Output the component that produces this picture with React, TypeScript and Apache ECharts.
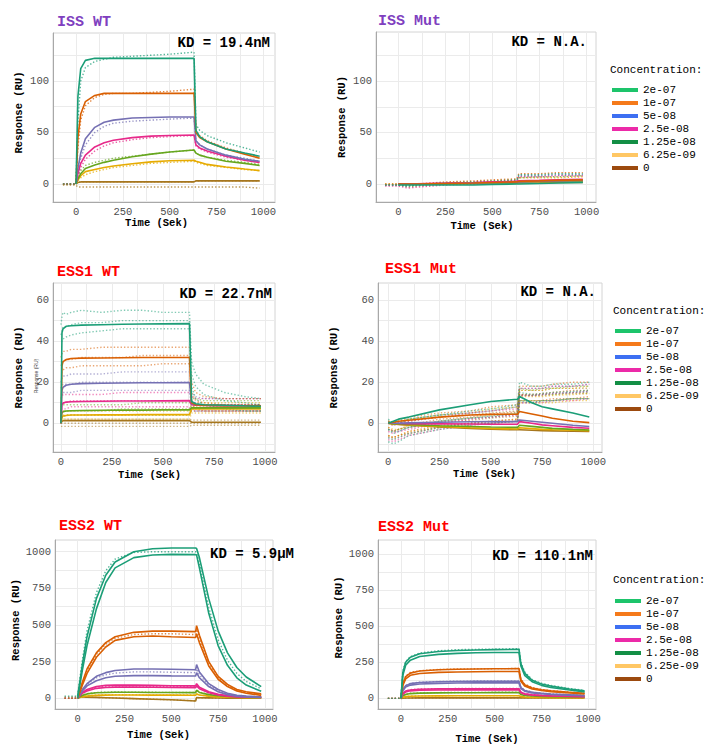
import React, { useEffect, useRef } from 'react';
import * as echarts from 'echarts';

// ---------- categories / palette ----------
const CONCENTRATIONS = ['2e-07', '1e-07', '5e-08', '2.5e-08', '1.25e-08', '6.25e-09', '0'];
const PLOT_COLORS = ['#1B9E77', '#D95F02', '#7570B3', '#E7298A', '#66A61E', '#E6AB02', '#A6761D'];
const LEGEND_COLORS = ['#1DC46B', '#F57A1A', '#3D6FF2', '#EC2AA8', '#138F45', '#FFC764', '#9C4A0E'];

// ---------- tick labels ----------
const X_LABELS = [0, 250, 500, 750, 1000];
const X_GRIDLINES = [-125, 0, 125, 250, 375, 500, 625, 750, 875, 1000];
const ISS_Y_LABELS = [0, 50, 100];
const ISS_Y_GRIDLINES = [0, 25, 50, 75, 100, 125];
const ESS1_Y_LABELS = [0, 20, 40, 60];
const ESS1_Y_GRIDLINES = [-10, 0, 10, 20, 30, 40, 50, 60];
const ESS2_Y_LABELS = [0, 250, 500, 750, 1000];
const ESS2_Y_GRIDLINES = [0, 125, 250, 375, 500, 625, 750, 875, 1000];

// ---------- ISS WT ----------
const ISS_WT_T = [-70, -1, 0, 10, 25, 50, 100, 150, 200, 300, 400, 500, 630, 640, 660, 700, 800, 900, 980];
const ISS_WT_FIT = [
  [null, null, 0, 85, 112, 120, 122, 122, 122, 122, 122, 122, 122, 52, 46, 41, 34, 30, 27],
  [null, null, 0, 45, 68, 80, 86, 88, 88, 88, 88, 88, 88, 50, 45, 41, 34, 29, 25],
  [null, null, 0, 15, 30, 44, 55, 60, 62, 64, 64.5, 65, 65, 42, 38, 34, 28, 24, 22],
  [null, null, 0, 10, 20, 28, 36, 40, 42.5, 45, 46.5, 47, 47.5, 38, 35, 32, 27, 23, 21],
  [null, null, 0, 5, 10, 15, 18.5, 21, 23, 26.5, 29, 31, 33, 30, 28, 26, 22, 20, 18],
  [null, null, 0, 4, 8, 12, 14, 16, 17.5, 19.7, 21.5, 22.5, 23, 22, 21, 19, 16.5, 14.5, 13],
  [null, null, 0, 1.5, 2, 2, 2, 2, 2, 2, 2, 2, 2, 3, 3, 3, 3, 3, 3],
];
const ISS_WT_DATA = [
  [0, 0, 0, 60, 100, 113, 119, 121, 123, 124, 125, 126, 128, 58, 52, 47, 40, 35, 31],
  [0, 0, 0, 35, 62, 76, 84, 87, 88, 88, 89, 90, 92, 52, 47, 42, 35, 30, 26],
  [0, 0, 0, 12, 25, 38, 50, 56, 59, 61, 62, 63, 64, 42, 38, 34, 28, 25, 22],
  [0, 0, 0, 8, 16, 24, 32, 37, 40, 43, 45, 46, 47, 37, 34, 31, 26, 23, 21],
  [0, 0, 0, 8, 13, 18, 21, 23, 25, 27, 29, 31, 33, 30, 28, 26, 23, 21, 19],
  [0, 0, 0, 3, 6, 9, 12, 14, 16, 18, 20, 21, 22, 21, 20, 18, 16, 14, 13],
  [0, 0, 0, 2, 2, 2, 2, 2, 2, 2, 2, 2, 2, 3, 3, 3, 3, 3, 3],
];
const ISS_WT_DATA_BLANK2 = [-1, -1, -1, -3, -3, -3, -3, -3, -3, -3, -3, -3, -3, -3, -3, -3, -3, -3, -4];

// ---------- ISS Mut ----------
const ISS_MUT_T = [-70, -1, 0, 50, 100, 250, 400, 500, 630, 640, 750, 850, 980];
const ISS_MUT_FIT = [
  [null, null, -1, -1, -1, -1, -1, -0.5, 0, 0, 0.5, 1, 1.5],
  [null, null, 0, 0, 0, 0.5, 1, 1.5, 2, 2.5, 3, 3.5, 4],
  [null, null, 0, 0, 0, 0.5, 1, 1.2, 1.5, 2, 2.5, 3, 3.5],
  [null, null, 0, 0, 0.2, 0.8, 1.5, 2, 2.5, 3, 3.5, 4, 4.5],
  [null, null, 0, 0, 0, 0.5, 1, 1.2, 1.5, 2, 2.5, 3, 3],
  [null, null, 0, 0, 0, 0.3, 0.8, 1, 1.3, 1.5, 2, 2.5, 3],
  [null, null, 0, 0, 0, 0, 0.3, 0.5, 0.8, 1, 1.2, 1.5, 1.5],
];
const ISS_MUT_DATA = [
  [-1, -1, -1, -2, -1, 1, 2, 3, 4, 9, 9, 10, 10],
  [0, 0, 0, -1, 0, 2, 3, 4, 5, 10, 10, 11, 11],
  [-1, -1, -1, -2, -1, 0, 1, 2, 3, 8, 8, 9, 9],
  [-2, -2, -2, -4, -3, -1, 0, 1, 2, 7, 7, 8, 8],
  [-1, -1, -1, -3, -2, 0, 1, 2, 3, 6, 7, 7, 8],
  [0, 0, 0, -1, 0, 1, 2, 3, 4, 6, 6, 6, 7],
  [-1, -1, -1, -1, -1, 0, 0, 1, 1, 2, 2, 2, 2],
];

// ---------- ESS1 WT ----------
const ESS1_WT_T = [0, 5, 10, 25, 50, 100, 200, 300, 400, 500, 630, 640, 660, 700, 800, 900, 980];
const ESS1_WT_FIT = [
  [0, 44, 46, 47.2, 47.5, 47.8, 48, 48.2, 48.3, 48.4, 48.5, 10.6, 9.5, 9, 8.8, 8.5, 8.3],
  [0, 28, 30, 31, 31.5, 31.7, 31.8, 31.9, 32, 32, 32, 10, 9, 8.8, 8.6, 8.5, 8.5],
  [0, 16, 17.5, 18.5, 19, 19.3, 19.5, 19.6, 19.7, 19.7, 19.8, 9.5, 9, 8.8, 8.6, 8.5, 8.5],
  [0, 9, 9.8, 10.3, 10.5, 10.6, 10.7, 10.8, 10.8, 10.9, 11, 9, 8.8, 8.7, 8.6, 8.5, 8.5],
  [0, 5, 5.6, 6, 6.1, 6.2, 6.3, 6.4, 6.4, 6.5, 6.5, 7.5, 7.5, 7.5, 7.5, 7.5, 7.5],
  [0, 3, 3.5, 3.8, 4, 4, 4.1, 4.1, 4.2, 4.2, 4.2, 7, 7, 7, 7, 7, 7],
  [0, 1, 1.2, 1.3, 1.3, 1.3, 1.3, 1.3, 1.3, 1.3, 1.3, 0.5, 0.5, 0.5, 0.5, 0.5, 0.5],
];
const ESS1_WT_DATA_HIGH = [
  [48, 52, 54, 53, 54, 55, 54, 55, 55, 54, 54, 30, 24, 19, 15, 13, 12],
  [32, 34, 35, 35, 36, 36, 37, 37, 37, 37, 37, 20, 15, 13, 12, 12, 12],
  [20, 22, 23, 23, 24, 24, 24, 25, 25, 25, 25, 15, 13, 12, 12, 12, 12],
  [12, 13, 14, 14, 14, 14, 14, 15, 15, 15, 15, 13, 12, 12, 12, 12, 12],
  [8, 9, 9, 9, 9, 9, 9, 9, 10, 10, 10, 12, 12, 11, 11, 11, 11],
  [6, 6, 6, 6, 6, 6, 6, 6, 6, 6, 6, 10, 10, 10, 10, 10, 10],
  [2, 2, 2, 2, 2, 2, 2, 2, 2, 2, 2, 1.5, 1.5, 1.5, 1.5, 1.5, 1.5],
];
const ESS1_WT_DATA_MID = [
  [43, 45, 47, 47, 48, 49, 49, 50, 50, 50, 50, 24, 18, 14, 11, 10, 9],
  [28, 29, 30, 31, 31, 32, 32, 32, 33, 33, 33, 15, 11, 10, 9, 9, 9],
  [17, 18, 19, 19, 19, 20, 20, 20, 20, 20, 20, 11, 10, 9, 9, 9, 9],
  [9, 10, 10, 10, 11, 11, 11, 11, 11, 11, 11, 9, 9, 9, 9, 9, 9],
  [5, 6, 6, 6, 6, 6, 6, 7, 7, 7, 7, 9, 9, 9, 9, 9, 9],
  [3, 3, 4, 4, 4, 4, 4, 4, 4, 4, 4, 8, 8, 8, 8, 8, 8],
  [0, 0, 0, 0, 0, 0, 0, 0, 0, 0, 0, 0, 0, 0, 0, 0, 0],
];
const ESS1_WT_DATA_LOW = [
  [40, 40, 41, 42, 43, 44, 45, 46, 46, 46, 46, 18, 12, 9, 7, 6, 6],
  [25, 25, 26, 27, 27, 28, 28, 28, 28, 29, 29, 10, 7, 6, 6, 6, 6],
  [14, 14, 15, 15, 15, 16, 16, 16, 16, 16, 16, 7, 6, 6, 6, 6, 6],
  [7, 7, 7, 7, 8, 8, 8, 8, 8, 8, 8, 6, 6, 6, 6, 6, 6],
  [3, 3, 3, 4, 4, 4, 4, 4, 4, 4, 4, 6, 6, 6, 6, 6, 6],
  [1, 1, 2, 2, 2, 2, 2, 2, 2, 2, 2, 5, 5, 5, 5, 5, 5],
  [-1.5, -1.5, -1.5, -1.5, -1.5, -1.5, -1.5, -1.5, -1.5, -1.5, -1.5, -1, -1, -1, -1, -1, -1],
];

// ---------- ESS1 Mut ----------
const ESS1_MUT_T = [0, 25, 50, 100, 250, 400, 500, 630, 640, 700, 750, 800, 900, 980];
const ESS1_MUT_FIT = [
  [0, 1, 2, 3, 6.5, 9, 10.6, 11.7, 13, 10, 8, 7, 5, 3],
  [0, 0.5, 1, 1.5, 3, 4, 4.3, 4.4, 5.7, 4.5, 3.5, 2.4, 1, 0.3],
  [0, 0, 0, 0.2, 0.5, 0.7, 0.8, 0.8, 1.6, 1, 0.5, 0, -1, -1.6],
  [0, 0, -0.1, -0.2, -0.3, -0.4, -0.5, -0.5, 0.8, 0, -0.8, -1.2, -2, -2.4],
  [0, -0.2, -0.4, -0.6, -1.2, -1.6, -1.8, -2, -1, -1.5, -2, -2.5, -3, -3.3],
  [0, -0.3, -0.5, -0.8, -1.5, -2.2, -2.5, -2.8, -2.2, -2.6, -3, -3.2, -3.4, -3.6],
  [0, -0.3, -0.6, -1, -1.8, -2.5, -2.9, -3.2, -3.2, -3.4, -3.6, -3.7, -3.9, -4],
];
const ESS1_MUT_DATA_HIGH = [
  [2, 0, 0, 2, 4, 6, 7, 9, 20, 18, 18, 19, 19, 20],
  [1, 0, 1, 3, 5, 6, 8, 9, 18, 18, 18, 19, 20, 20],
  [1, -1, 0, 2, 4, 5, 6, 8, 17, 17, 17, 18, 18, 19],
  [0, -1, 0, 1, 3, 5, 6, 7, 17, 17, 17, 18, 18, 19],
  [1, 0, 0, 2, 4, 5, 6, 8, 17, 16, 17, 17, 18, 18],
  [1, 0, 1, 2, 4, 5, 7, 8, 16, 16, 16, 17, 17, 18],
  [0, -1, 0, 1, 3, 4, 5, 6, 16, 16, 16, 17, 17, 17],
];
const ESS1_MUT_DATA_MID = [
  [-3, -5, -4, -2, 1, 2.5, 3.5, 5, 15, 14, 14.5, 15, 15.5, 16],
  [-2, -4, -3, -1, 2, 3, 4.5, 5.5, 14, 14, 14.5, 15, 16, 16],
  [-3, -4, -4, -2, 1, 2.5, 3, 4.5, 14, 13.5, 14, 14.5, 15, 15.5],
  [-4, -5, -4, -3, 0, 2, 3, 4, 13.5, 13.5, 14, 14.5, 15, 15.5],
  [-3, -4, -3, -2, 1, 2.5, 3, 4.5, 14, 13.5, 14, 14, 15, 15],
  [-2, -3, -3, -1, 1, 2.5, 4, 5, 13, 13, 13, 13.5, 14, 14.5],
  [-3, -4, -3, -2, 0.5, 1.5, 2.5, 3.5, 13.5, 13.5, 13.5, 14, 14.5, 14.5],
];
const ESS1_MUT_DATA_LOW = [
  [-9, -10, -9, -6, -3, -1, 0, 1, 11, 10, 11, 11, 12, 12],
  [-6, -7, -6, -4, -1, 0, 1, 2, 11, 11, 11, 12, 12, 13],
  [-7, -8, -7, -5, -2, 0, 0, 1, 10, 10, 11, 11, 12, 12],
  [-8, -9, -8, -6, -3, -1, 0, 1, 10, 10, 10, 11, 11, 12],
  [-7, -8, -7, -5, -2, 0, 0, 1, 11, 11, 11, 11, 12, 12],
  [-6, -7, -6, -4, -2, 0, 1, 2, 10, 10, 10, 10, 11, 11],
  [-6, -7, -6, -5, -2, -1, 0, 1, 11, 11, 11, 11, 12, 12],
];

// ---------- ESS2 WT ----------
const ESS2_WT_T = [-70, -1, 0, 25, 50, 100, 150, 200, 300, 400, 500, 630, 635, 650, 700, 750, 800, 850, 900, 980];
const ESS2_WT_FIT_A = [
  [null, null, 15, 230, 420, 680, 840, 930, 1000, 1020, 1025, 1025, 1022, 960, 680, 460, 310, 210, 145, 80],
  [null, null, 0, 110, 200, 310, 380, 420, 450, 458, 458, 455, 495, 430, 250, 150, 95, 60, 45, 30],
  [null, null, 0, 60, 100, 150, 175, 190, 200, 200, 198, 195, 230, 180, 100, 60, 35, 20, 15, 10],
  [null, null, 0, 40, 60, 80, 88, 90, 90, 88, 86, 85, 100, 75, 45, 28, 18, 12, 10, 8],
  [null, null, 0, 20, 30, 38, 40, 41, 41, 40, 40, 39, 55, 40, 25, 17, 12, 9, 7, 5],
  [null, null, 0, 10, 16, 20, 22, 23, 23, 22, 22, 21, 30, 22, 15, 10, 7, 5, 4, 3],
  [null, null, 10, 9, 8, 6, 4, 2, -2, -6, -10, -18, 5, 4, 3, 2, 1, 1, 0, 0],
];
const ESS2_WT_FIT_B = [
  [null, null, 0, 190, 360, 610, 790, 890, 960, 978, 982, 980, 977, 890, 580, 360, 225, 140, 90, 48],
  [null, null, 0, 90, 170, 280, 350, 395, 420, 425, 420, 415, 440, 380, 220, 130, 80, 50, 35, 20],
  [null, null, 0, 50, 85, 120, 140, 150, 155, 155, 153, 152, 175, 140, 80, 45, 25, 15, 10, 5],
  [null, null, 0, 35, 50, 68, 74, 76, 76, 75, 74, 73, 85, 65, 38, 22, 14, 10, 8, 6],
];
const ESS2_WT_DATA = [
  [15, 15, 15, 260, 460, 720, 870, 950, 995, 1000, 1000, 1000, 995, 920, 620, 400, 260, 170, 115, 65],
  [0, 0, 0, 100, 190, 300, 370, 410, 435, 440, 440, 435, 470, 410, 240, 140, 90, 55, 40, 25],
  [0, 0, 0, 55, 95, 140, 160, 172, 180, 180, 178, 175, 200, 160, 90, 52, 30, 18, 12, 8],
  [0, 0, 0, 38, 55, 75, 82, 84, 84, 82, 80, 80, 92, 70, 40, 25, 16, 11, 9, 7],
  [0, 0, 0, 22, 32, 40, 42, 43, 42, 41, 40, 40, 55, 42, 26, 18, 13, 10, 8, 6],
  [0, 0, 0, 12, 18, 22, 24, 24, 24, 23, 23, 22, 30, 23, 15, 10, 7, 5, 4, 3],
  [10, 10, 10, 9, 8, 6, 4, 2, -2, -6, -10, -17, 5, 4, 3, 2, 1, 1, 0, 0],
];

// ---------- ESS2 Mut ----------
const ESS2_MUT_T = [-70, -1, 0, 10, 25, 50, 100, 200, 300, 400, 500, 630, 640, 660, 700, 750, 800, 900, 980];
const ESS2_MUT_FIT_A = [
  [null, null, 0, 180, 250, 285, 310, 325, 332, 336, 338, 340, 240, 175, 125, 100, 85, 65, 52],
  [null, null, 0, 100, 150, 175, 190, 198, 202, 204, 205, 206, 130, 95, 72, 60, 52, 42, 35],
  [null, null, 0, 60, 88, 102, 110, 115, 117, 118, 118, 118, 75, 55, 42, 35, 30, 24, 20],
  [null, null, 0, 35, 50, 58, 63, 66, 67, 67, 67, 67, 42, 32, 25, 21, 18, 15, 13],
  [null, null, 0, 18, 27, 33, 36, 38, 39, 39, 40, 40, 26, 20, 16, 13, 12, 10, 9],
  [null, null, 0, 8, 12, 15, 16, 17, 18, 18, 18, 18, 12, 9, 7, 6, 5, 4, 4],
  [null, null, 0, 1, 2, 2, 3, 3, 3, 3, 3, 3, 3, 3, 3, 3, 3, 3, 3],
];
const ESS2_MUT_FIT_B = [
  [null, null, 0, 160, 230, 265, 290, 305, 312, 316, 318, 318, 225, 160, 115, 90, 75, 58, 45],
  [null, null, 0, 90, 135, 160, 172, 180, 183, 185, 186, 186, 118, 85, 65, 54, 46, 37, 30],
  [null, null, 0, 52, 78, 92, 100, 104, 106, 107, 107, 107, 68, 50, 38, 32, 27, 22, 18],
  [null, null, 0, 30, 44, 52, 56, 58, 59, 59, 59, 59, 38, 28, 22, 18, 16, 13, 11],
];
const ESS2_MUT_DATA = [
  [0, 0, 0, 190, 255, 290, 315, 330, 338, 340, 342, 345, 250, 185, 130, 105, 90, 68, 55],
  [0, 0, 0, 105, 155, 180, 192, 200, 204, 205, 206, 207, 135, 100, 75, 62, 53, 43, 36],
  [0, 0, 0, 62, 90, 104, 112, 117, 119, 120, 120, 120, 78, 57, 44, 36, 31, 25, 21],
  [0, 0, 0, 36, 52, 60, 65, 67, 68, 68, 68, 68, 44, 33, 26, 22, 19, 15, 13],
  [0, 0, 0, 20, 29, 35, 38, 40, 41, 41, 42, 42, 28, 21, 17, 14, 12, 10, 9],
  [0, 0, 0, 9, 13, 16, 17, 18, 19, 19, 19, 19, 13, 10, 8, 7, 6, 5, 4],
  [0, 0, 0, 1, 2, 2, 3, 3, 3, 3, 3, 3, 3, 3, 3, 3, 3, 3, 3],
];

// ---------- layout / styles ----------
const FONT = 'Liberation Mono, DejaVu Sans Mono, monospace';
const PURPLE = '#7F3FBF';
const RED = '#FF0000';

const PANELS = [
  { title: 'ISS WT', color: PURPLE, tx: 57, ty: 22, kd: 'KD = 19.4nM', kdX: 270, kdY: 43, kdAlign: 'right',
    grid: { left: 53, top: 33, width: 222, height: 169 }, x: [-123, 1062], y: [-17.5, 146.6],
    yLabels: ISS_Y_LABELS, yGrid: ISS_Y_GRIDLINES, xGap: 15, yGap: 29, xPad: 15, yPad: 10 },
  { title: 'ISS Mut', color: PURPLE, tx: 378, ty: 21, kd: 'KD = N.A.', kdX: 587, kdY: 42, kdAlign: 'right',
    grid: { left: 376, top: 32, width: 220, height: 170 }, x: [-118.4, 1050], y: [-17.5, 147.6],
    yLabels: ISS_Y_LABELS, yGrid: ISS_Y_GRIDLINES, xGap: 18.5, yGap: 29, xPad: 8, yPad: 0 },
  { title: 'ESS1 WT', color: RED, tx: 57, ty: 272.5, kd: 'KD = 22.7nM', kdX: 272, kdY: 294, kdAlign: 'right',
    grid: { left: 53, top: 283, width: 222, height: 169 }, x: [-39, 1049], y: [-14, 68.3],
    yLabels: ESS1_Y_LABELS, yGrid: ESS1_Y_GRIDLINES, xGap: 17, yGap: 29, xPad: 29, yPad: 0 },
  { title: 'ESS1 Mut', color: RED, tx: 385, ty: 269, kd: 'KD = N.A.', kdX: 596, kdY: 292, kdAlign: 'right',
    grid: { left: 378, top: 283, width: 224, height: 169 }, x: [-50, 1042], y: [-14, 68.3],
    yLabels: ESS1_Y_LABELS, yGrid: ESS1_Y_GRIDLINES, xGap: 16.3, yGap: 39, xPad: 11, yPad: 0 },
  { title: 'ESS2 WT', color: RED, tx: 59, ty: 526, kd: 'KD = 5.9μM', kdX: 210, kdY: 554, kdAlign: 'left',
    grid: { left: 55, top: 540, width: 218, height: 169 }, x: [-121, 1043], y: [-73, 1080],
    yLabels: ESS2_Y_LABELS, yGrid: ESS2_Y_GRIDLINES, xGap: 20.7, yGap: 31, xPad: 11, yPad: 9 },
  { title: 'ESS2 Mut', color: RED, tx: 378, ty: 527, kd: 'KD = 110.1nM', kdX: 593, kdY: 556, kdAlign: 'right',
    grid: { left: 378, top: 540, width: 218, height: 169 }, x: [-122.6, 1041], y: [-74, 1099],
    yLabels: ESS2_Y_LABELS, yGrid: ESS2_Y_GRIDLINES, xGap: 24, yGap: 33, xPad: 0, yPad: 14 },
];

const LEGENDS = [
  { left: 612, top: 83.5, headX: 610, headY: 70 },
  { left: 615, top: 324.5, headX: 613, headY: 311 },
  { left: 615, top: 594.5, headX: 613, headY: 580 },
];

function pairs(T: number[], V: (number | null)[]) {
  const out: number[][] = [];
  for (let i = 0; i < T.length; i++) {
    const v = V[i];
    if (v !== null && v !== undefined) out.push([T[i], v]);
  }
  return out;
}

function fitSeries(k: number, name: string, T: number[], V: (number | null)[], c: number) {
  return {
    type: 'line', name, xAxisIndex: k, yAxisIndex: k, data: pairs(T, V),
    showSymbol: false, silent: true, z: 3,
    lineStyle: { color: PLOT_COLORS[c], width: 1.6 },
  };
}
function dataSeries(k: number, name: string, T: number[], V: (number | null)[], c: number, op = 0.75) {
  return {
    type: 'line', name, xAxisIndex: k, yAxisIndex: k, data: pairs(T, V),
    showSymbol: false, silent: true, z: 2,
    lineStyle: { color: PLOT_COLORS[c], width: 1.4, type: [1.4, 2], opacity: op },
  };
}

function buildSeries() {
  const s: any[] = [];
  CONCENTRATIONS.forEach((c, i) => {
    s.push({ type: 'line', name: c, xAxisIndex: 1, yAxisIndex: 1, data: [], color: LEGEND_COLORS[i], itemStyle: { color: LEGEND_COLORS[i] } });
  });
  for (let c = 6; c >= 0; c--) {
    const n = CONCENTRATIONS[c];
    s.push(dataSeries(0, 'ISS WT data ' + n, ISS_WT_T, ISS_WT_DATA[c], c));
    s.push(fitSeries(0, 'ISS WT fit ' + n, ISS_WT_T, ISS_WT_FIT[c], c));
    s.push(dataSeries(1, 'ISS Mut data ' + n, ISS_MUT_T, ISS_MUT_DATA[c], c));
    s.push(fitSeries(1, 'ISS Mut fit ' + n, ISS_MUT_T, ISS_MUT_FIT[c], c));
    s.push(dataSeries(2, 'ESS1 WT data hi ' + n, ESS1_WT_T, ESS1_WT_DATA_HIGH[c], c, 0.55));
    s.push(dataSeries(2, 'ESS1 WT data mid ' + n, ESS1_WT_T, ESS1_WT_DATA_MID[c], c, 0.55));
    s.push(dataSeries(2, 'ESS1 WT data lo ' + n, ESS1_WT_T, ESS1_WT_DATA_LOW[c], c, 0.55));
    s.push(fitSeries(2, 'ESS1 WT fit ' + n, ESS1_WT_T, ESS1_WT_FIT[c], c));
    s.push(dataSeries(3, 'ESS1 Mut data hi ' + n, ESS1_MUT_T, ESS1_MUT_DATA_HIGH[c], c, 0.55));
    s.push(dataSeries(3, 'ESS1 Mut data mid ' + n, ESS1_MUT_T, ESS1_MUT_DATA_MID[c], c, 0.55));
    s.push(dataSeries(3, 'ESS1 Mut data lo ' + n, ESS1_MUT_T, ESS1_MUT_DATA_LOW[c], c, 0.55));
    s.push(fitSeries(3, 'ESS1 Mut fit ' + n, ESS1_MUT_T, ESS1_MUT_FIT[c], c));
    s.push(dataSeries(4, 'ESS2 WT data ' + n, ESS2_WT_T, ESS2_WT_DATA[c], c));
    s.push(fitSeries(4, 'ESS2 WT fit A ' + n, ESS2_WT_T, ESS2_WT_FIT_A[c], c));
    if (ESS2_WT_FIT_B[c]) s.push(fitSeries(4, 'ESS2 WT fit B ' + n, ESS2_WT_T, ESS2_WT_FIT_B[c], c));
    s.push(dataSeries(5, 'ESS2 Mut data ' + n, ESS2_MUT_T, ESS2_MUT_DATA[c], c));
    s.push(fitSeries(5, 'ESS2 Mut fit A ' + n, ESS2_MUT_T, ESS2_MUT_FIT_A[c], c));
    if (ESS2_MUT_FIT_B[c]) s.push(fitSeries(5, 'ESS2 Mut fit B ' + n, ESS2_MUT_T, ESS2_MUT_FIT_B[c], c));
  }
  s.push(dataSeries(0, 'ISS WT data 0 (2)', ISS_WT_T, ISS_WT_DATA_BLANK2, 6));
  return s;
}

function buildOption() {
  const grid = PANELS.map((p) => ({ ...p.grid, show: true, borderColor: '#d4d4d4', borderWidth: 1, backgroundColor: '#fff' }));
  const xAxis = PANELS.map((p, k) => ({
    type: 'value', gridIndex: k, min: p.x[0], max: p.x[1],
    name: 'Time (Sek)', nameLocation: 'middle', nameGap: p.xGap,
    nameTextStyle: { fontFamily: FONT, fontWeight: 'bold', fontSize: 10.5, color: '#000', padding: [0, p.xPad, 0, 0] },
    axisLine: { show: true, onZero: false, lineStyle: { color: '#a8a8a8' } },
    axisTick: { show: false, customValues: X_GRIDLINES.filter((v) => v >= p.x[0] && v <= p.x[1]) },
    axisLabel: { customValues: X_LABELS, formatter: (v: number) => String(v), fontFamily: FONT, fontSize: 10.5, color: '#4d4d4d', margin: 4 },
    splitLine: { show: true, lineStyle: { color: '#ebebeb', width: 1 } },
  }));
  const yAxis = PANELS.map((p, k) => ({
    type: 'value', gridIndex: k, min: p.y[0], max: p.y[1],
    name: 'Response (RU)', nameLocation: 'middle', nameGap: p.yGap,
    nameTextStyle: { fontFamily: FONT, fontWeight: 'bold', fontSize: 10.5, color: '#000', padding: [0, 0, 0, p.yPad] },
    axisLine: { show: true, onZero: false, lineStyle: { color: '#a8a8a8' } },
    axisTick: { show: false, customValues: p.yGrid },
    axisLabel: { customValues: p.yLabels, formatter: (v: number) => String(v), fontFamily: FONT, fontSize: 10.5, color: '#4d4d4d', margin: 4 },
    splitLine: { show: true, lineStyle: { color: '#ebebeb', width: 1 } },
  }));
  const legend = LEGENDS.map((l) => ({
    data: CONCENTRATIONS, orient: 'vertical', left: l.left, top: l.top, padding: 0,
    itemGap: 0, itemWidth: 26, itemHeight: 4, icon: 'rect', selectedMode: false,
    textStyle: { fontFamily: FONT, fontSize: 11, color: '#000', lineHeight: 13 },
  }));
  const graphic: any[] = [];
  PANELS.forEach((p) => {
    graphic.push({ type: 'text', x: p.tx, y: p.ty, z: 10,
      style: { text: p.title, fill: p.color, fontFamily: FONT, fontWeight: 'bold', fontSize: 15, align: 'left', verticalAlign: 'middle' } });
    graphic.push({ type: 'text', x: p.kdX, y: p.kdY, z: 10,
      style: { text: p.kd, fill: '#000', fontFamily: FONT, fontWeight: 'bold', fontSize: 14, align: p.kdAlign, verticalAlign: 'middle' } });
  });
  LEGENDS.forEach((l) => {
    graphic.push({ type: 'text', x: l.headX, y: l.headY, z: 10,
      style: { text: 'Concentration:', fill: '#000', fontFamily: FONT, fontSize: 11, align: 'left', verticalAlign: 'middle' } });
  });
  graphic.push({ type: 'text', x: 35.5, y: 376, rotation: Math.PI / 2, z: 10,
    style: { text: 'Response (RU)', fill: '#333', fontFamily: 'Liberation Sans, sans-serif', fontSize: 5, align: 'center', verticalAlign: 'middle' } });
  return {
    animation: false,
    backgroundColor: '#fff',
    grid, xAxis, yAxis, legend, graphic,
    series: buildSeries(),
  };
}

export default function App() {
  const ref = useRef<HTMLDivElement>(null);
  useEffect(() => {
    const chart = echarts.init(ref.current!, null, { renderer: 'svg' });
    chart.setOption(buildOption() as any);
    return () => chart.dispose();
  }, []);
  return <div ref={ref} style={{ position: 'absolute', left: 0, top: 0, width: 720, height: 750 }} />;
}
